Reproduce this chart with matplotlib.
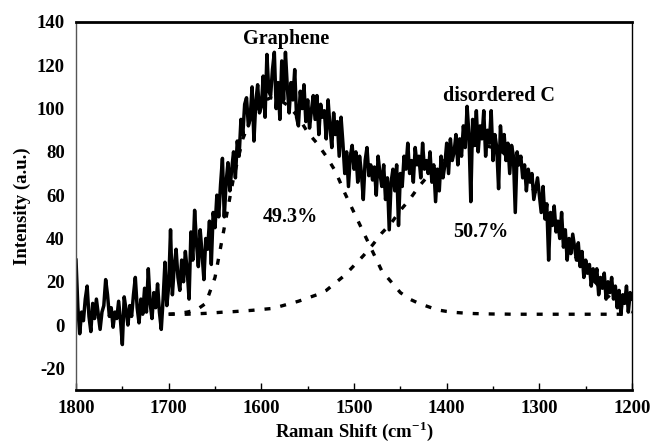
import numpy as np
import matplotlib
matplotlib.use('Agg')
import matplotlib.pyplot as plt
from matplotlib.ticker import MultipleLocator

#=====data=====
# measured spectrum, 1800 -> 1200 cm-1 every 2 cm-1
shift = np.arange(1800, 1199, -2)
intensity = [
    30, 8, -4, 6, 2, 12, 18, 4, -3, 10,
    3, 12, 5, -2, 6, 9, 21, 14, 4, 8,
    -1, 6, 3, 11, 2, -9, 13, 7, 0, 9,
    4, 14, 22, 8, 1, 12, 5, 17, 6, 26,
    10, 3, 15, 8, 19, 6, -2, 12, 29, 9,
    18, 44, 14, 27, 35, 22, 16, 30, 20, 34,
    25, 12, 43, 30, 53, 38, 27, 44, 33, 21,
    40, 35, 48, 28, 52, 45, 60, 50, 65, 77,
    50, 66, 75, 62, 72, 80, 68, 85, 78, 95,
    88, 102, 105, 92, 96, 110, 85, 103, 111, 98,
    101, 115, 96, 125, 108, 106, 118, 126, 100, 112,
    95, 122, 104, 126, 110, 98, 112, 104, 118, 96,
    92, 108, 100, 111, 94, 104, 91, 99, 106, 95,
    106, 88, 102, 96, 99, 86, 104, 92, 82, 98,
    88, 94, 78, 96, 84, 70, 80, 64, 78, 83,
    72, 80, 66, 78, 70, 58, 76, 82, 69, 74,
    67, 73, 60, 78, 70, 64, 74, 58, 68, 44,
    66, 72, 62, 74, 46, 70, 64, 78, 72, 84,
    70, 76, 66, 82, 74, 78, 68, 84, 72, 76,
    70, 80, 66, 74, 57, 72, 62, 78, 68, 74,
    84, 70, 86, 76, 80, 88, 74, 86, 78, 92,
    82, 101, 88, 57, 95, 84, 99, 80, 92, 86,
    99, 78, 90, 84, 99, 76, 88, 82, 63, 92,
    80, 88, 76, 84, 70, 83, 78, 52, 80, 74,
    78, 68, 74, 62, 72, 66, 70, 58, 63, 68,
    60, 52, 64, 49, 56, 30, 52, 46, 55, 43,
    48, 40, 52, 36, 44, 30, 40, 33, 42, 36,
    30, 38, 27, 34, 22, 30, 24, 28, 18, 26,
    20, 26, 14, 22, 17, 24, 12, 20, 15, 22,
    12, 18, 8, 16, 5, 14, 10, 18, 6, 15,
    12,
]

# fitted peaks (dashed), 1700 -> 1200 every 10 cm-1
fit_shift = np.arange(1700, 1199, -10)
graphene_fit = [
    5, 5.3, 6, 7, 10, 22, 45, 68, 86, 97,
    103, 105, 104, 101, 96, 89, 84, 78, 71, 61,
    52, 43, 34, 25, 20, 15, 12, 10, 8.5, 7,
    6.3, 5.8, 5.5, 5.3, 5.2, 5.1, 5.1, 5, 5, 5,
    5, 5, 5, 5, 5, 5, 5, 5, 5, 5, 5,
]
disordered_fit = [
    5, 5, 5, 5.2, 5.4, 5.7, 6, 6.2, 6.5, 6.8,
    7.2, 7.6, 8.6, 9.8, 11, 12.5, 14, 16, 19.5, 23,
    27.5, 32, 37, 42.5, 47, 53, 58, 64, 69, 73,
    77, 80, 82, 83, 83, 82, 80, 76, 71, 65,
    58, 51, 44, 37, 31, 25, 20, 15, 11, 8, 6,
]

labels = ['Graphene', 'disordered C', '49.3%', '50.7%']

#=====plot=====
plt.rcParams['font.family'] = ['Liberation Serif', 'DejaVu Serif']
plt.rcParams['font.weight'] = 'bold'
plt.rcParams['axes.unicode_minus'] = False
plt.rcParams['mathtext.fontset'] = 'custom'
plt.rcParams['mathtext.rm'] = 'Liberation Serif:bold'
plt.rcParams['mathtext.bf'] = 'Liberation Serif:bold'

fig = plt.figure(figsize=(6.53, 4.45), dpi=100)
ax = fig.add_axes([0.1164, 0.1236, 0.8515, 0.827])

ax.plot(fit_shift, graphene_fit, color='black', lw=2.4, linestyle=(0, (1.8, 3.0)))
ax.plot(fit_shift, disordered_fit, color='black', lw=2.4, linestyle=(0, (1.8, 3.0)))
ax.plot(shift, intensity, color='black', lw=2.5)

ax.set_xlim(1800, 1200)
ax.set_ylim(-30, 140)
ax.xaxis.set_major_locator(MultipleLocator(100))
ax.xaxis.set_minor_locator(MultipleLocator(50))
ax.yaxis.set_major_locator(MultipleLocator(20))
ax.tick_params(axis='x', which='major', direction='in', length=5, width=1, labelsize=13.5, pad=7)
ax.tick_params(axis='x', which='minor', direction='in', length=3, width=1)
ax.tick_params(axis='y', length=0, labelsize=13.5, pad=8)

for s, w, c in [('top', 2, 'black'), ('bottom', 2, 'black'), ('left', 1, '#555555'), ('right', 1, 'black')]:
    ax.spines[s].set_linewidth(w)
    ax.spines[s].set_color(c)

ax.set_xlabel('Raman Shift (cm$^{-1}$)', fontsize=13.5, fontweight='bold', labelpad=2)
ax.set_ylabel('Intensity (a.u.)', fontsize=13.5, fontweight='bold', labelpad=4)

ax.text(1573, 132, labels[0], ha='center', va='center', fontsize=14.5, fontweight='bold')
ax.text(1344, 106, labels[1], ha='center', va='center', fontsize=14.5, fontweight='bold')
ax.text(1569, 50, labels[2], ha='center', va='center', fontsize=14.5, fontweight='bold')
ax.text(1363, 43, labels[3], ha='center', va='center', fontsize=14.5, fontweight='bold')

fig.savefig('out.png', dpi=100)
